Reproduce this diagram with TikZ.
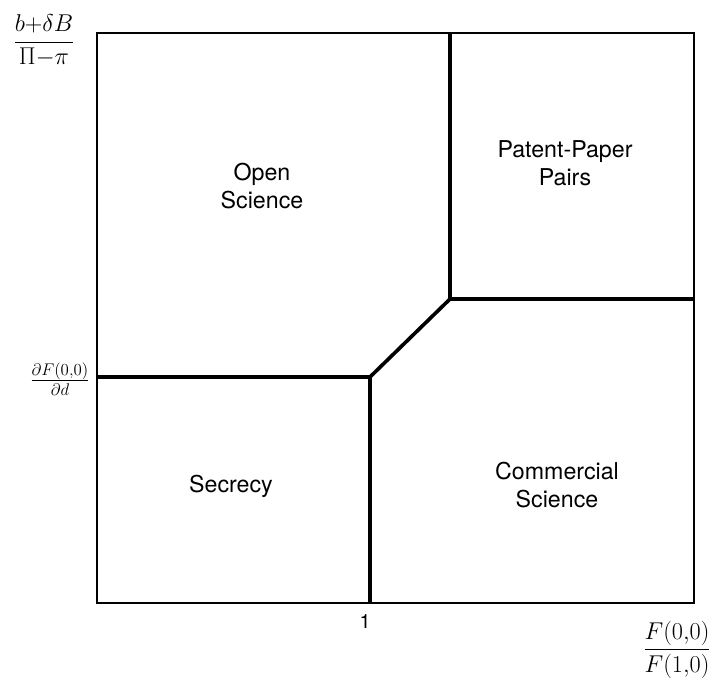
\documentclass[tikz,border=0pt]{standalone}
\usepackage{fontspec}
\setmainfont{TeX Gyre Heros}
\usepackage{amsmath}
\usetikzlibrary{positioning}

\begin{document}
\begin{tikzpicture}[x=0.025cm,y=-0.025cm]
\tikzstyle{region} = [align=center, font=\fontsize{16.5}{20}\selectfont]
\tikzstyle{axis} = [inner sep=0pt]
\tikzstyle{border} = [line width=1.4pt]
\tikzstyle{bound} = [line width=2.6pt, line join=miter]

\useasboundingbox (0,0) rectangle (723,681);

% corners of the frontier
\coordinate (tl) at (97,33);
\coordinate (br) at (694,603);
\coordinate (kinkhi) at (450,299);
\coordinate (kinklo) at (370,377);

\draw [border] (tl) rectangle (br);
\draw [bound] (450,33) -- (kinkhi) -- (694,299);
\draw [bound] (97,377) -- (kinklo) -- (370,603);
\draw [bound] (kinklo) -- (kinkhi);

\node (open) [region] at (262,186) {Open\\Science};
\node (pairs) [region] at (565,163) {Patent-Paper\\Pairs};
\node (secr) [region] at (231,486) {Secrecy};
\node (comm) [region] at (557,485) {Commercial\\Science};

\node (yax) [axis] at (44,41) {\fontsize{18}{21}\selectfont$\dfrac{b{+}\delta B}{\Pi{-}\pi}$};
\node (dd) [axis] at (60,379) {\fontsize{17.5}{20}\selectfont$\frac{\partial F(0{,}0)}{\partial d}$};
\node (one) [axis] at (365,622) {\fontsize{14}{16}\selectfont 1};
\node (xax) [axis] at (677,650) {\fontsize{16.5}{19}\selectfont$\dfrac{F(0{,}0)}{F(1{,}0)}$};
\end{tikzpicture}
\end{document}
